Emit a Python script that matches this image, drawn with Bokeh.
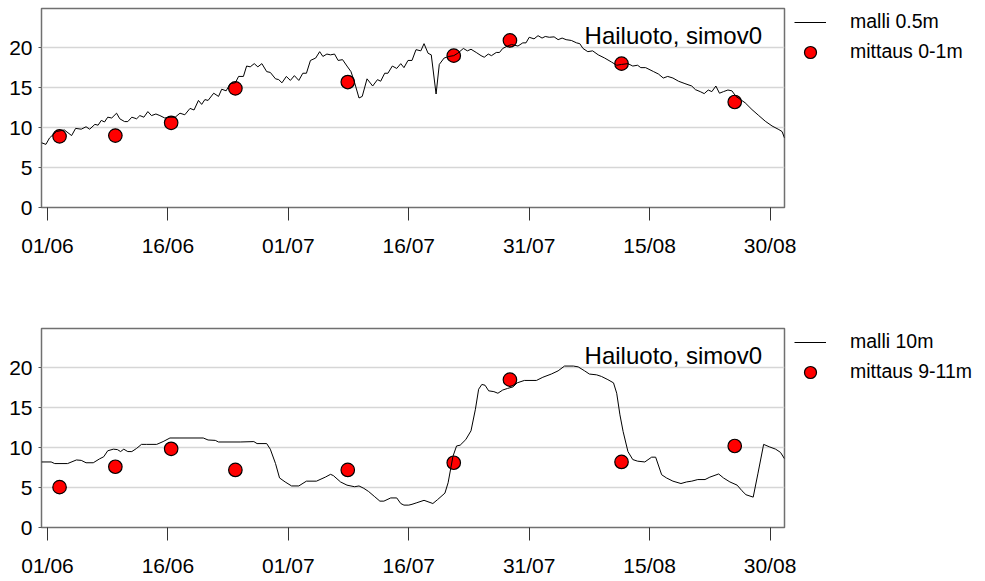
from bokeh.plotting import figure
from bokeh.models import Range1d, FixedTicker, Legend, LegendItem, Label
from bokeh.layouts import column
from bokeh.embed import file_html
from bokeh.resources import INLINE

# x values are days since 01/06
tick_days = [0, 15, 30, 45, 60, 75, 90]
tick_labels = ["01/06", "16/06", "01/07", "16/07", "31/07", "15/08", "30/08"]
y_ticks = [0, 5, 10, 15, 20]

station = "Hailuoto, simov0"

# model at 0.5 m (malli 0.5m)
top_days = [-0.75, -0.2, 0.25, 1.1, 2.1, 3.0, 3.5, 4.2, 4.8, 5.25, 5.9, 6.3, 6.7, 7.1, 7.5, 8.0,
            8.6, 9.0, 9.6, 10.0, 10.5, 11.1, 11.5, 12.0, 12.5, 12.95, 13.5, 14.0, 14.6, 15.25,
            15.9, 16.5, 17.1, 17.75, 18.25, 18.8, 19.2, 19.6, 20.0, 20.7, 21.3, 21.7, 22.25,
            22.75, 23.4, 23.8, 24.4, 24.8, 25.25, 25.75, 26.2, 26.7, 27.3, 27.75, 28.4, 28.8,
            29.2, 29.75, 30.25, 30.75, 31.3, 31.8, 32.25, 32.75, 33.4, 33.9, 34.3, 34.8, 35.25,
            35.75, 36.2, 36.75, 37.3, 37.8, 38.2, 38.8, 39.2, 39.8, 40.5, 41.1, 41.5, 42.0,
            42.4, 42.95, 43.5, 44.0, 44.4, 44.9, 45.4, 45.9, 46.5, 46.9, 47.4, 47.8, 48.4,
            48.8, 49.4, 50.0, 50.6, 51.1, 51.8, 52.3, 52.75, 53.4, 54.0, 54.4, 54.9, 55.3,
            55.9, 56.3, 56.7, 57.3, 57.8, 58.6, 59.2, 59.6, 60.0, 60.6, 61.1, 61.6, 62.0,
            62.5, 63.1, 63.6, 64.1, 64.6, 65.25, 65.9, 66.3, 66.7, 67.3, 67.9, 68.6, 69.4,
            70.25, 70.9, 71.5, 72.3, 72.9, 73.5, 73.9, 74.5, 75.5, 76.1, 76.7, 77.25, 77.9,
            78.6, 79.4, 80.25, 80.7, 81.3, 81.8, 82.3, 82.75, 83.25, 83.7, 84.2, 84.75, 85.25,
            85.75, 86.9, 87.75, 88.6, 89.4, 90.25, 91.1, 91.5, 91.8]
top_vals = [8.1, 7.9, 8.7, 9.5, 9.7, 9.0, 9.9, 9.8, 10.1, 9.8, 10.4, 10.3, 10.9, 10.7, 11.3, 11.2,
            11.8, 11.1, 10.75, 10.75, 11.3, 11.1, 11.5, 11.3, 12.0, 11.5, 11.7, 11.5, 11.2, 11.3,
            11.3, 11.8, 11.6, 12.4, 12.2, 13.4, 12.9, 13.5, 13.4, 14.3, 13.9, 14.8, 14.6,
            15.5, 15.6, 16.4, 16.4, 17.7, 17.6, 18.0, 17.6, 18.0, 17.0, 16.9, 16.1, 16.0,
            15.6, 16.4, 15.9, 16.5, 15.9, 16.8, 16.8, 18.4, 18.7, 19.5, 18.9, 19.2, 19.1,
            19.2, 18.4, 18.5, 17.7, 17.0, 15.8, 13.7, 13.9, 16.1, 15.2, 16.0, 15.8, 16.8,
            16.8, 17.7, 17.4, 18.0, 17.5, 18.4, 18.4, 19.75, 19.6, 20.5, 19.3, 19.1, 14.2,
            17.9, 18.7, 18.9, 19.0, 19.3, 19.9, 19.6, 19.8, 19.4, 19.0, 18.8, 19.2, 19.0,
            19.4, 19.4, 19.9, 20.2, 20.4, 20.2, 20.6, 20.6, 21.3, 21.1, 21.5, 21.2, 21.4,
            21.3, 21.35, 21.0, 21.2, 21.0, 20.9, 20.6, 20.5, 19.9, 19.5, 19.6, 19.1, 18.7,
            18.2, 17.8, 17.9, 18.0, 17.7, 17.8, 17.5, 17.5, 17.0, 16.7, 16.2, 16.4, 16.2,
            15.8, 15.5, 15.2, 14.75, 14.5, 14.25, 14.7, 14.5, 15.2, 14.3, 14.5, 14.7, 14.6,
            13.9, 13.1, 12.25, 11.5, 10.8, 10.2, 9.75, 9.5, 8.7]

# model at 10 m (malli 10m)
bot_days = [-0.75, 0.45, 0.9, 2.5, 3.6, 4.2, 4.8, 5.7, 6.5, 7.0, 7.5, 8.2, 8.7, 9.1, 9.5, 10.0,
            10.5, 11.1, 11.7, 12.3, 13.6, 14.4, 15.25, 16.5, 19.4, 20.0, 20.9, 21.3, 24.0,
            25.7, 26.1, 27.3, 27.75, 28.4, 28.9, 29.6, 30.4, 31.3, 32.25, 33.5, 34.6, 35.25,
            35.6, 36.5, 37.3, 38.25, 38.8, 39.4, 40.0, 40.7, 41.4, 41.9, 42.75, 43.5, 44.0,
            44.4, 45.0, 45.4, 46.0, 46.9, 48.0, 48.6, 49.5, 49.9, 50.5, 50.95, 51.4, 52.1,
            52.75, 53.3, 53.7, 54.1, 54.5, 54.95, 55.6, 56.1, 56.7, 57.3, 58.0, 58.5, 59.4,
            60.9, 61.7, 62.75, 63.6, 64.4, 65.5, 66.1, 66.9, 67.5, 68.4, 69.0, 69.8, 70.5,
            70.9, 71.3, 71.7, 72.3, 72.9, 73.5, 74.4, 75.25, 75.75, 76.5, 77.1, 77.9, 78.9,
            79.6, 80.25, 81.0, 81.9, 82.5, 83.6, 84.2, 85.0, 85.9, 86.5, 87.0, 87.9, 88.5,
            89.2, 89.9, 90.7, 91.3, 91.8]
bot_vals = [8.2, 8.2, 8.0, 8.0, 8.45, 8.4, 8.1, 8.1, 8.6, 8.85, 9.6, 9.8, 9.75, 9.5, 9.8, 9.5,
            9.5, 9.9, 10.4, 10.4, 10.4, 10.75, 11.2, 11.2, 11.2, 10.95, 10.9, 10.7, 10.7,
            10.75, 10.5, 10.5, 9.8, 8.0, 6.2, 5.7, 5.2, 5.2, 5.8, 5.8, 6.3, 6.65,
            6.5, 5.7, 5.3, 5.1, 5.2, 4.9, 4.5, 3.9, 3.3, 3.3, 3.7, 3.7, 3.0,
            2.8, 2.8, 2.9, 3.1, 3.4, 3.0, 3.5, 4.3, 5.6, 8.9, 10.2, 10.3, 11.0,
            12.1, 14.8, 17.3, 17.9, 17.8, 17.1, 17.0, 16.8, 17.2, 17.4, 17.6, 18.1, 18.4,
            18.4, 18.8, 19.2, 19.6, 20.2, 20.2, 20.1, 19.6, 19.2, 19.1, 18.9, 18.5, 18.1,
            16.8, 14.1, 12.0, 9.5, 8.5, 8.3, 8.2, 8.8, 8.8, 6.6, 6.2, 5.8, 5.5,
            5.7, 5.8, 6.0, 6.0, 6.3, 6.7, 6.2, 5.7, 5.3, 4.6, 4.1, 3.8, 6.8,
            10.4, 10.1, 9.8, 9.4, 8.6]

# measurements
meas_days = [1.5, 8.45, 15.4, 23.4, 37.4, 50.6, 57.6, 71.5, 85.6]
meas_top = [8.9, 9.0, 10.6, 14.9, 15.7, 19.0, 20.9, 18.0, 13.2]
meas_bot = [5.05, 7.6, 9.85, 7.2, 7.2, 8.1, 18.5, 8.2, 10.2]

FONT = "Liberation Sans"


def make_panel(line_days, line_vals, m_vals, line_label, meas_label,
               top_border, bottom_border, x_standoff):
    p = figure(frame_width=743, frame_height=199,
               x_range=Range1d(-0.75, 91.8), y_range=Range1d(0, 24.9),
               min_border_left=41, min_border_right=200,
               min_border_top=top_border, min_border_bottom=bottom_border,
               output_backend="svg", toolbar_location=None,
               background_fill_color="white", border_fill_color="white")

    sc = p.scatter(meas_days, m_vals, size=13.5, marker="circle",
                   fill_color="#ff0000", line_color="black", line_width=1.2)
    ln = p.line(line_days, line_vals, line_color="black", line_width=1)

    p.xaxis.ticker = FixedTicker(ticks=tick_days)
    p.xaxis.major_label_overrides = {d: t for d, t in zip(tick_days, tick_labels)}
    p.xaxis.major_tick_out = 13
    p.xaxis.major_tick_in = 0
    p.xaxis.minor_tick_out = 0
    p.xaxis.minor_tick_in = 0
    p.xaxis.axis_line_color = None
    p.xaxis.major_tick_line_color = "#333333"
    p.xaxis.major_label_standoff = x_standoff

    p.yaxis.ticker = FixedTicker(ticks=y_ticks)
    p.yaxis.major_tick_out = 3
    p.yaxis.major_tick_in = 0
    p.yaxis.minor_tick_out = 0
    p.yaxis.minor_tick_in = 0
    p.yaxis.axis_line_color = None
    p.yaxis.major_tick_line_color = "#555555"
    p.yaxis.major_label_standoff = 6

    for ax in (p.xaxis, p.yaxis):
        ax.major_label_text_font = FONT
        ax.major_label_text_font_size = "21px"
        ax.major_label_text_color = "black"

    p.xgrid.visible = False
    p.ygrid.grid_line_color = "#d6d6d6"
    p.ygrid.grid_line_width = 1.5

    p.outline_line_color = "#707070"
    p.outline_line_width = 1.5
    p.outline_line_alpha = 1.0

    p.add_layout(Label(x=89.0, y=21.5, text=station, text_align="right",
                       text_baseline="alphabetic", text_font=FONT,
                       text_font_size="24px", text_color="black"))

    leg = Legend(items=[LegendItem(label=line_label, renderers=[ln]),
                        LegendItem(label=meas_label, renderers=[sc])],
                 location=(10, 140.5), glyph_width=32, glyph_height=30,
                 label_height=30, label_standoff=24, padding=0, margin=0,
                 spacing=0, border_line_color=None, background_fill_alpha=0,
                 label_text_font=FONT, label_text_font_size="19.5px",
                 label_text_color="black")
    p.add_layout(leg, "right")
    return p


p1 = make_panel(top_days, top_vals, meas_top, "malli 0.5m", "mittaus 0-1m", 8, 92, 13)
p2 = make_panel(bot_days, bot_vals, meas_bot, "malli 10m", "mittaus 9-11m", 29, 52, 13)

layout = column(p1, p2, spacing=0)
open("out.html", "w").write(file_html(layout, INLINE))
